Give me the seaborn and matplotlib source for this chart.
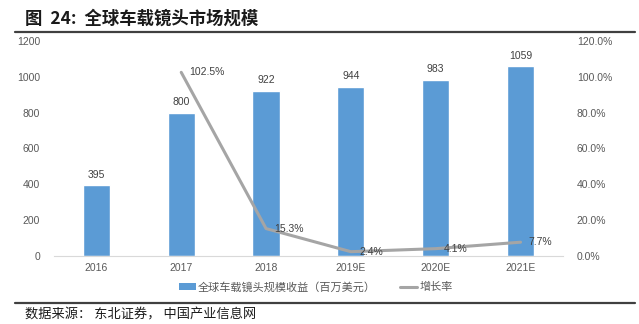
import numpy as np
import pandas as pd
import matplotlib
matplotlib.use("Agg")
import matplotlib.pyplot as plt
import seaborn as sns
from matplotlib.lines import Line2D
from matplotlib.patches import Patch

sns.set_theme(style="white")
plt.rcParams["font.family"] = ["Noto Sans CJK SC", "DejaVu Sans"]

# Data
years = ["2016", "2017", "2018", "2019E", "2020E", "2021E"]
revenue = [395, 800, 922, 944, 983, 1059]           # 百万美元
growth = [np.nan, 102.5, 15.3, 2.4, 4.1, 7.7]       # %
left_ticks = [0, 200, 400, 600, 800, 1000, 1200]
right_ticks = [0, 20, 40, 60, 80, 100, 120]

title_text = "图  24:  全球车载镜头市场规模"
source_text = "数据来源： 东北证券， 中国产业信息网"
bar_name = "全球车载镜头规模收益（百万美元）"
line_name = "增长率"

BAR_C = "#5B9BD5"
LINE_C = "#A5A5A5"
TICK_C = "#595959"
LABEL_C = "#404040"

df = pd.DataFrame({"year": years, "revenue": revenue, "growth": growth})

fig = plt.figure(figsize=(6.39, 3.24), dpi=100)
ax = fig.add_axes([0.0845, 0.2099, 0.7965, 0.6636])

sns.barplot(data=df, x="year", y="revenue", color=BAR_C, width=0.32,
            saturation=1, ax=ax)
ax.set_ylim(0, 1200)
ax.set_yticks(left_ticks)
ax.set_xlim(-0.5, len(years) - 0.5)
ax.set_xlabel("")
ax.set_ylabel("")
for s in ["top", "right", "left"]:
    ax.spines[s].set_visible(False)
ax.spines["bottom"].set_color("#D9D9D9")
ax.spines["bottom"].set_linewidth(0.8)
ax.tick_params(axis="both", length=0, labelsize=7.5, labelcolor=TICK_C)
ax.tick_params(axis="y", pad=10)
ax.tick_params(axis="x", pad=5)
for lbl in ax.get_xticklabels() + ax.get_yticklabels():
    lbl.set_family(["Liberation Sans", "DejaVu Sans"])

for i, v in enumerate(revenue):
    ax.annotate(f"{v}", (i, v), xytext=(0, 4), textcoords="offset points",
                ha="center", va="bottom", fontsize=7.5, color=LABEL_C,
                family=["Liberation Sans", "DejaVu Sans"])

ax2 = ax.twinx()
idx = np.arange(len(years))
mask = ~np.isnan(np.array(growth, dtype=float))
sns.lineplot(x=idx[mask], y=np.array(growth)[mask], color=LINE_C,
             linewidth=2.2, ax=ax2)
ax2.set_ylim(0, 120)
ax2.set_yticks(right_ticks)
ax2.set_yticklabels([f"{t:.1f}%" for t in right_ticks])
ax2.set_xlim(-0.5, len(years) - 0.5)
for s in ["top", "right", "left", "bottom"]:
    ax2.spines[s].set_visible(False)
ax2.tick_params(axis="y", length=0, labelsize=7.5, labelcolor=TICK_C, pad=10)
for lbl in ax2.get_yticklabels():
    lbl.set_family(["Liberation Sans", "DejaVu Sans"])
ax2.grid(False)
ax.grid(False)

for i, g in zip(idx[mask], np.array(growth)[mask]):
    ax2.annotate(f"{g:.1f}%", (i, g), xytext=(6, 0), textcoords="offset points",
                 ha="left", va="center", fontsize=7.5, color=LABEL_C,
                 family=["Liberation Sans", "DejaVu Sans"])

# Legend
handles = [Patch(facecolor=BAR_C, edgecolor="none"),
           Line2D([0], [0], color=LINE_C, linewidth=2.2)]
fig.legend(handles, [bar_name, line_name], loc="center",
           bbox_to_anchor=(0.494, 0.114), ncol=2, frameon=False,
           fontsize=8, labelcolor=TICK_C, handlelength=1.5,
           handleheight=0.5, columnspacing=2.2, handletextpad=0.2)

# Title and rules
fig.text(0.039, 0.944, title_text, fontsize=12.5, fontweight="bold",
         color="#1a1a1a", ha="left", va="center")
fig.add_artist(Line2D([0.023, 0.994], [0.901, 0.901], color="#404040",
                      linewidth=1.6, transform=fig.transFigure))
fig.add_artist(Line2D([0.023, 0.994], [0.065, 0.065], color="#404040",
                      linewidth=1.6, transform=fig.transFigure))
fig.text(0.039, 0.028, source_text, fontsize=9.5, color="#1a1a1a",
         ha="left", va="center")

fig.savefig("out.png", dpi=100)
